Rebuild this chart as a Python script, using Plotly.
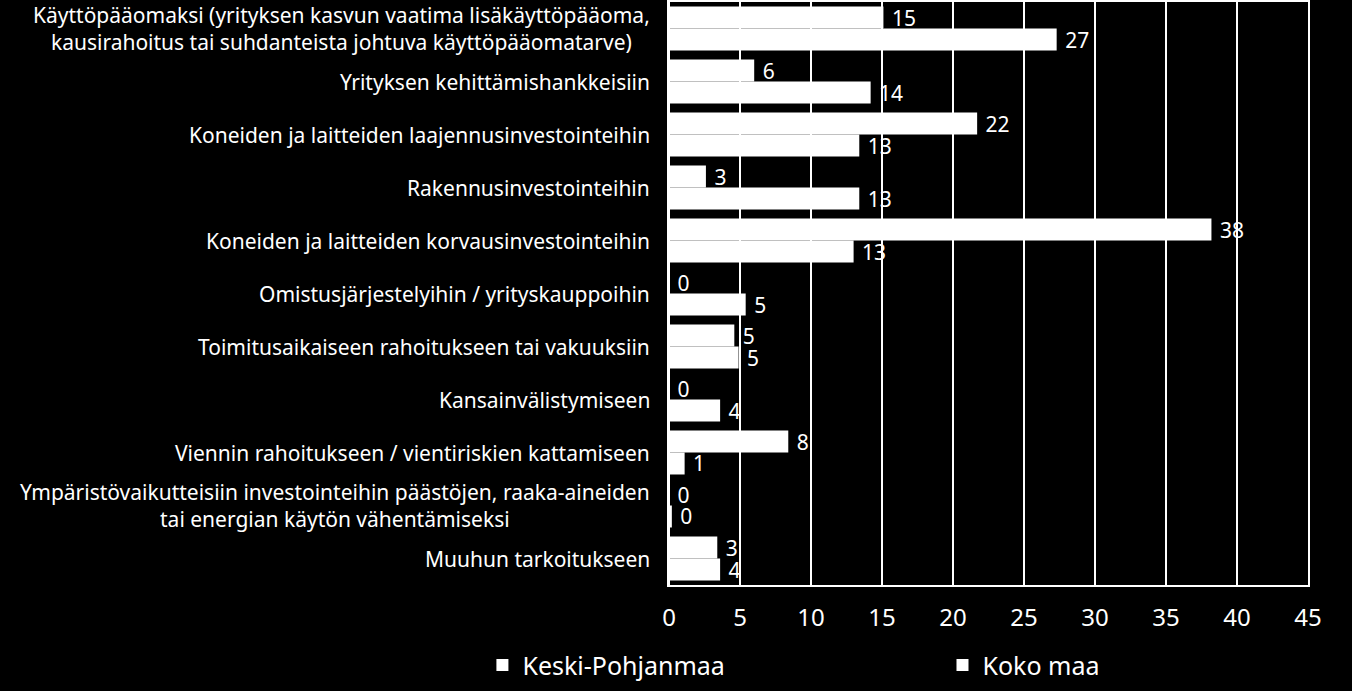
import plotly.graph_objects as go

categories = [
    "Käyttöpääomaksi (yrityksen kasvun vaatima lisäkäyttöpääoma,<br>kausirahoitus tai suhdanteista johtuva käyttöpääomatarve)",
    "Yrityksen kehittämishankkeisiin",
    "Koneiden ja laitteiden laajennusinvestointeihin",
    "Rakennusinvestointeihin",
    "Koneiden ja laitteiden korvausinvestointeihin",
    "Omistusjärjestelyihin / yrityskauppoihin",
    "Toimitusaikaiseen rahoitukseen tai vakuuksiin",
    "Kansainvälistymiseen",
    "Viennin rahoitukseen / vientiriskien kattamiseen",
    "Ympäristövaikutteisiin investointeihin päästöjen, raaka-aineiden<br>tai energian käytön vähentämiseksi",
    "Muuhun tarkoitukseen",
]
keski_pohjanmaa = [15.1, 6.0, 21.7, 2.6, 38.2, 0.0, 4.6, 0.0, 8.4, 0.0, 3.4]
koko_maa = [27.3, 14.2, 13.4, 13.4, 13.0, 5.4, 4.9, 3.6, 1.1, 0.2, 3.6]
series_names = ["Keski-Pohjanmaa", "Koko maa"]
x_ticks = [0, 5, 10, 15, 20, 25, 30, 35, 40, 45]

FONT = "Noto Sans"
idx = list(range(len(categories)))

fig = go.Figure()
for name, vals, lg in zip(series_names, [keski_pohjanmaa, koko_maa], ["legend", "legend2"]):
    fig.add_trace(go.Bar(
        y=idx, x=vals, name=name, orientation="h",
        marker=dict(color="white", line=dict(width=0)),
        texttemplate=" %{x:.0f}", textposition="outside",
        textfont=dict(color="white", size=21, family=FONT),
        constraintext="none",
        cliponaxis=False,
        legend=lg,
    ))

for i, c in enumerate(categories):
    fig.add_annotation(
        x=-0.027, xref="paper", y=i, yref="y", text=c, showarrow=False,
        xanchor="right", yanchor="middle", align="center",
        font=dict(color="white", size=21, family=FONT),
    )

legend_style = dict(
    orientation="h", xanchor="left", y=-0.098, yanchor="top",
    font=dict(size=25, color="white", family=FONT),
    itemwidth=30, bgcolor="rgba(0,0,0,0)",
)

fig.update_layout(
    width=1352, height=691,
    paper_bgcolor="black", plot_bgcolor="black",
    margin=dict(l=669, r=44, t=0, b=106),
    barmode="group", bargap=0.17, bargroupgap=0,
    font=dict(family=FONT, color="white"),
    showlegend=True,
    legend=dict(x=-0.292, **legend_style),
    legend2=dict(x=0.428, **legend_style),
)
fig.update_xaxes(
    range=[0, 45], tickvals=x_ticks, showgrid=True, gridcolor="white", gridwidth=1.5,
    showline=True, linecolor="white", linewidth=1.5, mirror=True,
    zeroline=True, zerolinecolor="white", zerolinewidth=1.5,
    tickfont=dict(size=24, color="white", family=FONT),
    ticks="outside", ticklen=10, tickcolor="black",
)
fig.update_yaxes(
    range=[len(categories) - 0.5, -0.5], showticklabels=False, showgrid=False,
    showline=True, linecolor="white", linewidth=1.5, mirror=True, zeroline=False,
)

fig.write_html("out.html")
